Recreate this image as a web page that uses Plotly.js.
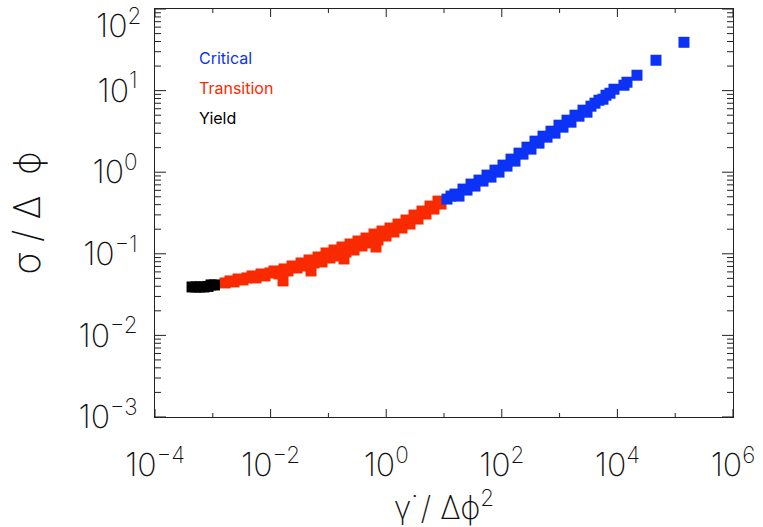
<!DOCTYPE html>
<html>
<head>
<meta charset="utf-8">
<script src="https://cdn.plot.ly/plotly-3.0.1.min.js"></script>
<style>html,body{margin:0;padding:0;background:#fff;}</style>
</head>
<body>
<div id="chart" style="width:763px;height:527px;"></div>
<script>
// Yield regime
const yieldX = [4.37e-4, 5.12e-4, 6.00e-4, 7.04e-4, 8.26e-4, 9.31e-4, 1.07e-3];
const yieldY = [0.0392, 0.0392, 0.0392, 0.0392, 0.0398, 0.0415, 0.0415];

// Transition regime
const transX = [1.63e-3, 1.98e-3, 2.33e-3, 2.73e-3, 3.33e-3, 3.91e-3, 4.77e-3, 5.59e-3, 6.82e-3, 8.00e-3,
  9.76e-3, 1.145e-2, 1.40e-2, 1.64e-2, 1.71e-2, 2.00e-2, 2.35e-2, 2.86e-2, 3.36e-2, 3.94e-2,
  4.62e-2, 5.00e-2, 5.64e-2, 6.61e-2, 7.75e-2, 9.09e-2, 0.1066, 0.125, 0.1466, 0.1719,
  0.1862, 0.2016, 0.2364, 0.2773, 0.3252, 0.3814, 0.4473, 0.5245, 0.6152, 0.666, 0.7214,
  0.846, 0.992, 1.163, 1.364, 1.600, 1.877, 2.201, 2.581, 3.027, 3.550,
  4.164, 4.883, 5.727, 6.714, 7.876, 8.88];
const transY = [0.0439, 0.0465, 0.0452, 0.0491, 0.0478, 0.0506, 0.0535, 0.0506, 0.0566, 0.0535,
  0.0582, 0.0616, 0.0566, 0.0465, 0.0652, 0.0616, 0.0709, 0.0670, 0.0772, 0.0709,
  0.0840, 0.0616, 0.0772, 0.0914, 0.0794, 0.1023, 0.0888, 0.1113, 0.0940, 0.1211,
  0.0864, 0.1052, 0.1318, 0.1113, 0.1435, 0.1246, 0.1561, 0.1356, 0.1747, 0.1211, 0.1475,
  0.1902, 0.1651, 0.2069, 0.1849, 0.2316, 0.2069, 0.2593, 0.2316, 0.2985, 0.2666,
  0.3342, 0.3071, 0.3847, 0.3535, 0.4428, 0.4071];

// Critical regime
const critX = [11.27, 13.22, 15.50, 18.18, 21.32, 25.00, 29.32, 34.39, 40.33, 47.29,
  55.46, 65.04, 76.28, 89.46, 104.9, 123.0, 144.3, 169.2, 198.4, 232.7,
  272.9, 320.0, 375.3, 440.1, 516.1, 605.3, 709.9, 832.5, 976.3, 1145,
  1343, 1575, 1847, 2166, 2540, 2979, 3493, 4097, 4805, 5635,
  6351, 7448, 8735, 13010, 14660, 21830, 46540, 142000];
const critY = [0.4685, 0.5098, 0.5394, 0.5098, 0.6210, 0.6037, 0.7151, 0.6759, 0.8004, 0.7782,
  0.9215, 0.8710, 1.061, 1.003, 1.222, 1.188, 1.447, 1.367, 1.713, 1.665,
  2.029, 1.918, 2.403, 2.271, 2.766, 2.689, 3.185, 3.010, 3.771, 3.565,
  4.342, 4.104, 4.999, 4.860, 5.756, 5.440, 6.444, 7.014, 7.630, 7.847,
  8.784, 9.294, 10.40, 11.64, 12.67, 15.44, 23.56, 39.13];

const labels = ["Critical", "Transition", "Yield"];

// Axis ticks
const xTickVals = [1e-4, 1e-2, 1e0, 1e2, 1e4, 1e6];
const xTickText = ["10<sup>−4</sup>", "10<sup>−2</sup>", "10<sup>0</sup>", "10<sup>2</sup>", "10<sup>4</sup>", "10<sup>6</sup>"];
const xMinorVals = [1e-3, 1e-1, 1e1, 1e3, 1e5];
const yTickVals = [1e-3, 1e-2, 1e-1, 1e0, 1e1, 1e2];
const yTickText = ["10<sup>−3</sup>", "10<sup>−2</sup>", "10<sup>−1</sup>", "10<sup>0</sup>", "10<sup>1</sup>", "10<sup>2</sup>"];
const yMinorVals = [2e-3,3e-3,4e-3,5e-3,6e-3,7e-3,8e-3,9e-3,
  2e-2,3e-2,4e-2,5e-2,6e-2,7e-2,8e-2,9e-2,
  0.2,0.3,0.4,0.5,0.6,0.7,0.8,0.9,
  2,3,4,5,6,7,8,9,
  20,30,40,50,60,70,80,90];

const BLUE = "#0c33f5", RED = "#fa2a00", BLACK = "#000000";
const X_RANGE = [-4.0005, 6.0005], Y_RANGE = [-3.0005, 2.0005];
const PLOT_W = 578, PLOT_H = 408;
const TICK_COLOR = "#222";

const mk = (c) => ({symbol: "square", size: 11, color: c});
const traces = [
  {x: transX, y: transY, type: "scatter", mode: "markers", marker: mk(RED), name: labels[1]},
  {x: yieldX, y: yieldY, type: "scatter", mode: "markers", marker: mk(BLACK), name: labels[2]},
  {x: critX, y: critY, type: "scatter", mode: "markers", marker: mk(BLUE), name: labels[0]}
];

// tick marks as shapes (placed through the axes' scales), on all four sides
const shapes = [];
function xTick(v, len) {
  const f = len / PLOT_H;
  shapes.push({type: "line", xref: "x", yref: "paper", x0: v, x1: v, y0: 0, y1: f, line: {color: TICK_COLOR, width: 1}, layer: "above"});
  shapes.push({type: "line", xref: "x", yref: "paper", x0: v, x1: v, y0: 1, y1: 1 - f, line: {color: TICK_COLOR, width: 1}, layer: "above"});
}
function yTick(v, len) {
  const f = len / PLOT_W;
  shapes.push({type: "line", xref: "paper", yref: "y", x0: 0, x1: f, y0: v, y1: v, line: {color: TICK_COLOR, width: 1}, layer: "above"});
  shapes.push({type: "line", xref: "paper", yref: "y", x0: 1, x1: 1 - f, y0: v, y1: v, line: {color: TICK_COLOR, width: 1}, layer: "above"});
}
xTickVals.forEach(v => xTick(v, 8));
xMinorVals.forEach(v => xTick(v, 4));
yTickVals.forEach(v => yTick(v, 11));
yMinorVals.forEach(v => yTick(v, 6));

const FONT = "Inter, DejaVu Sans, sans-serif";
const axisCommon = {
  type: "log", showgrid: false, zeroline: false, showline: true, linecolor: "#222", linewidth: 1,
  mirror: true, ticks: "", tickmode: "array",
  tickfont: {family: FONT, size: 32, color: "#111", weight: 200}
};

const layout = {
  width: 763, height: 527,
  margin: {l: 155, r: 30, t: 9, b: 110},
  showlegend: false,
  shapes: shapes,
  xaxis: Object.assign({}, axisCommon, {
    range: X_RANGE, tickvals: xTickVals, ticktext: xTickText, ticklabelstandoff: 20,
    title: {text: "γ̇ / Δϕ<sup>2</sup>", font: {family: FONT, size: 32, color: "#111", weight: 200}}
  }),
  yaxis: Object.assign({}, axisCommon, {
    range: Y_RANGE, tickvals: yTickVals.slice(0, 5), ticktext: yTickText.slice(0, 5), ticklabelstandoff: 10,
    title: {text: "σ / Δ  ϕ", font: {family: FONT, size: 37, color: "#111", weight: 200}, standoff: 26}
  }),
  annotations: [
    {text: yTickText[5], xref: "paper", yref: "y", x: 0, y: Math.log10(yTickVals[5]), xanchor: "right", yanchor: "middle",
     xshift: -12, yshift: -14, showarrow: false, font: {family: FONT, size: 32, color: "#111", weight: 200}},
    {text: labels[0], xref: "paper", yref: "paper", x: 0.073, y: 0.879, xanchor: "left", yanchor: "middle", showarrow: false, font: {family: FONT, size: 16, color: BLUE}},
    {text: labels[1], xref: "paper", yref: "paper", x: 0.073, y: 0.806, xanchor: "left", yanchor: "middle", showarrow: false, font: {family: FONT, size: 16, color: RED}},
    {text: labels[2], xref: "paper", yref: "paper", x: 0.073, y: 0.732, xanchor: "left", yanchor: "middle", showarrow: false, font: {family: FONT, size: 16, color: BLACK}}
  ]
};

Plotly.newPlot("chart", traces, layout, {staticPlot: true, displayModeBar: false});
</script>
</body>
</html>
